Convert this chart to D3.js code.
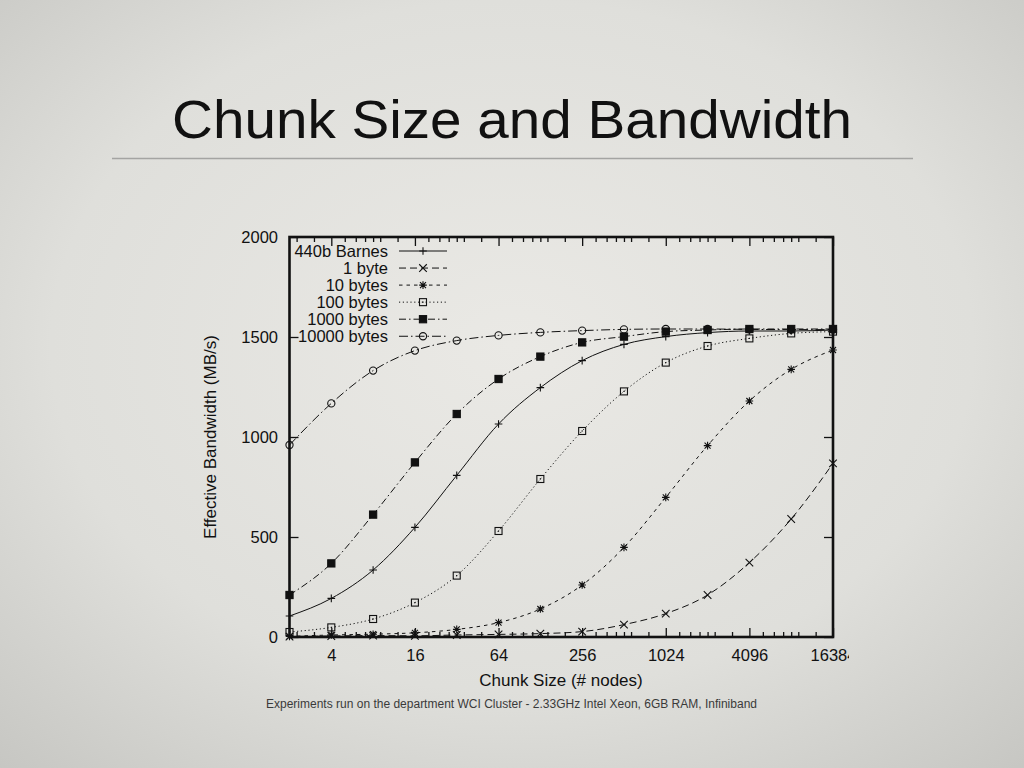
<!DOCTYPE html>
<html>
<head>
<meta charset="utf-8">
<script src="https://cdn.jsdelivr.net/npm/d3@7"></script>
<style>
  html, body { margin: 0; padding: 0; }
  svg { display: block; font-family: "Liberation Sans", Arial, Helvetica, sans-serif; }
</style>
</head>
<body>
<svg id="slide" width="1024" height="768"></svg>
<script>
// chunk sizes (# nodes), log2 axis
var chunkSizes = [2, 4, 8, 16, 32, 64, 128, 256, 512, 1024, 2048, 4096, 8192, 16384];
var xTickLabels = [4, 16, 64, 256, 1024, 4096, 16384];
var yTickLabels = [0, 500, 1000, 1500, 2000];

// effective bandwidth (MB/s) per series
var barnes440   = [105, 193, 335, 548, 808, 1065, 1247, 1382, 1463, 1502, 1522, 1530, 1530, 1535];
var bytes1      = [2, 5, 7, 6, 10, 13, 17, 27, 62, 117, 210, 372, 590, 868];
var bytes10     = [3, 10, 14, 21, 38, 72, 140, 260, 448, 698, 957, 1180, 1338, 1435];
var bytes100    = [25, 48, 90, 172, 307, 530, 790, 1030, 1228, 1372, 1455, 1493, 1518, 1527];
var bytes1000   = [210, 368, 612, 873, 1115, 1290, 1402, 1473, 1502, 1527, 1535, 1540, 1540, 1540];
var bytes10000  = [960, 1168, 1332, 1432, 1482, 1508, 1523, 1532, 1538, 1540, 1540, 1538, 1537, 1537];

var seriesNames = ["440b Barnes", "1 byte", "10 bytes", "100 bytes", "1000 bytes", "10000 bytes"];
var seriesValues = [barnes440, bytes1, bytes10, bytes100, bytes1000, bytes10000];
var seriesDash = [null, "7,4", "3.5,4", "1.2,2.6", "7,3,1.5,3", "9,3,1.5,3"];
var seriesMarker = ["plus", "cross", "star", "square", "filledSquare", "circle"];

var svg = d3.select("#slide");

// slide background
var defs = svg.append("defs");
var grad = defs.append("radialGradient").attr("id", "bg")
  .attr("cx", "50%").attr("cy", "45%").attr("r", "75%");
grad.append("stop").attr("offset", "0%").attr("stop-color", "#eae9e5");
grad.append("stop").attr("offset", "60%").attr("stop-color", "#dfdfdb");
grad.append("stop").attr("offset", "100%").attr("stop-color", "#c6c6c2");
svg.append("rect").attr("width", 1024).attr("height", 768).attr("fill", "url(#bg)");

svg.append("text")
  .attr("x", 512).attr("y", 138)
  .attr("text-anchor", "middle")
  .attr("font-size", 53)
  .attr("textLength", 680)
  .attr("lengthAdjust", "spacingAndGlyphs")
  .attr("fill", "#111")
  .text("Chunk Size and Bandwidth");

svg.append("line")
  .attr("x1", 112).attr("x2", 913)
  .attr("y1", 158.5).attr("y2", 158.5)
  .attr("stroke", "#a4a4a2").attr("stroke-width", 1.6);

// plot box (window.top is read-only, so no bare "top")
var plotLeft = 289.5, plotRight = 833, plotTop = 237, plotBottom = 637;
var x = d3.scaleLog().base(2).domain([2, 16384]).range([plotLeft, plotRight]);
var y = d3.scaleLinear().domain([0, 2000]).range([plotBottom, plotTop]);

defs.append("clipPath").attr("id", "imgclip")
  .append("rect").attr("x", 180).attr("y", 200).attr("width", 669).attr("height", 520);

var chart = svg.append("g").attr("clip-path", "url(#imgclip)");

// minor x ticks: same multipliers in each 4x interval
var minorMult = [1.25, 1.5, 1.75, 2, 2.25, 3];
var minorTicks = [];
[1, 4, 16, 64, 256, 1024, 4096].forEach(function (b) {
  minorMult.forEach(function (m) {
    var v = b * m;
    if (v > 2 && v < 16384) minorTicks.push(v);
  });
});

function styleAxis(g) {
  g.select(".domain").remove();
  g.selectAll("line").attr("stroke", "#111").attr("stroke-width", 1.3);
  g.selectAll("text").attr("fill", "#111").attr("font-size", 16.5).attr("font-family", null);
}

chart.append("g").attr("transform", "translate(0," + plotBottom + ")")
  .call(d3.axisBottom(x).tickValues(xTickLabels).tickFormat(d3.format("d")).tickSize(-9).tickPadding(12.5))
  .call(styleAxis);
chart.append("g").attr("transform", "translate(0," + plotBottom + ")")
  .call(d3.axisBottom(x).tickValues(minorTicks).tickFormat("").tickSize(-5))
  .call(styleAxis);
chart.append("g").attr("transform", "translate(0," + plotTop + ")")
  .call(d3.axisTop(x).tickValues(xTickLabels).tickFormat("").tickSize(-9))
  .call(styleAxis);
chart.append("g").attr("transform", "translate(0," + plotTop + ")")
  .call(d3.axisTop(x).tickValues(minorTicks).tickFormat("").tickSize(-5))
  .call(styleAxis);
chart.append("g").attr("transform", "translate(" + plotLeft + ",0)")
  .call(d3.axisLeft(y).tickValues(yTickLabels).tickFormat(d3.format("d")).tickSize(-9).tickPadding(11.5))
  .call(styleAxis);
chart.append("g").attr("transform", "translate(" + plotRight + ",0)")
  .call(d3.axisRight(y).tickValues(yTickLabels).tickFormat("").tickSize(-9))
  .call(styleAxis);

chart.append("text")
  .attr("x", 561).attr("y", 686)
  .attr("text-anchor", "middle").attr("font-size", 17).attr("fill", "#111")
  .text("Chunk Size (# nodes)");
chart.append("text")
  .attr("transform", "translate(216,437) rotate(-90)")
  .attr("text-anchor", "middle").attr("font-size", 17).attr("fill", "#111")
  .text("Effective Bandwidth (MB/s)");

// markers
function drawMarker(g, type, cx, cy) {
  var s = 3.8;
  if (type === "plus") {
    g.append("path").attr("d", "M" + (cx - s) + "," + cy + "H" + (cx + s) + "M" + cx + "," + (cy - s) + "V" + (cy + s));
  } else if (type === "cross") {
    g.append("path").attr("d", "M" + (cx - s) + "," + (cy - s) + "L" + (cx + s) + "," + (cy + s) + "M" + (cx - s) + "," + (cy + s) + "L" + (cx + s) + "," + (cy - s));
  } else if (type === "star") {
    g.append("path").attr("d", "M" + (cx - s) + "," + cy + "H" + (cx + s) + "M" + cx + "," + (cy - s) + "V" + (cy + s) +
      "M" + (cx - 3) + "," + (cy - 3) + "L" + (cx + 3) + "," + (cy + 3) + "M" + (cx - 3) + "," + (cy + 3) + "L" + (cx + 3) + "," + (cy - 3));
  } else if (type === "square") {
    g.append("rect").attr("x", cx - 3.5).attr("y", cy - 3.5).attr("width", 7).attr("height", 7).attr("fill", "none");
    g.append("rect").attr("x", cx - 0.6).attr("y", cy - 0.6).attr("width", 1.2).attr("height", 1.2).attr("fill", "#111").attr("stroke", "none");
  } else if (type === "filledSquare") {
    g.append("rect").attr("x", cx - 3.6).attr("y", cy - 3.6).attr("width", 7.2).attr("height", 7.2).attr("fill", "#111");
  } else if (type === "circle") {
    g.append("circle").attr("cx", cx).attr("cy", cy).attr("r", 3.6).attr("fill", "none");
  }
}

var line = d3.line()
  .x(function (d) { return x(d[0]); })
  .y(function (d) { return y(d[1]); })
  .curve(d3.curveMonotoneX);

var plotArea = chart.append("g");
seriesValues.forEach(function (vals, i) {
  var pts = chunkSizes.map(function (c, j) { return [c, vals[j]]; });
  var g = plotArea.append("g").attr("stroke", "#111").attr("fill", "none");
  g.append("path").attr("d", line(pts))
    .attr("stroke-width", 1)
    .attr("stroke-dasharray", seriesDash[i]);
  var mg = g.append("g").attr("stroke-width", 1.1);
  pts.forEach(function (p) { drawMarker(mg, seriesMarker[i], x(p[0]), y(p[1])); });
});

// legend
var legend = chart.append("g");
seriesNames.forEach(function (name, i) {
  var by = 256.5 + i * 17.05;
  legend.append("text")
    .attr("x", 388).attr("y", by)
    .attr("text-anchor", "end").attr("font-size", 16.5).attr("fill", "#111")
    .text(name);
  var g = legend.append("g").attr("stroke", "#111").attr("fill", "none");
  g.append("line").attr("x1", 399).attr("x2", 447).attr("y1", by - 5.5).attr("y2", by - 5.5)
    .attr("stroke-width", 1).attr("stroke-dasharray", seriesDash[i]);
  drawMarker(g.append("g").attr("stroke-width", 1.1), seriesMarker[i], 423, by - 5.5);
});

chart.append("rect")
  .attr("x", plotLeft).attr("y", plotTop)
  .attr("width", plotRight - plotLeft).attr("height", plotBottom - plotTop)
  .attr("fill", "none").attr("stroke", "#111").attr("stroke-width", 2.6);

svg.append("text")
  .attr("x", 266).attr("y", 708)
  .attr("font-size", 12).attr("fill", "#3a3a3a")
  .attr("textLength", 491).attr("lengthAdjust", "spacingAndGlyphs")
  .text("Experiments run on the department WCI Cluster - 2.33GHz Intel Xeon, 6GB RAM, Infiniband");
</script>
</body>
</html>
